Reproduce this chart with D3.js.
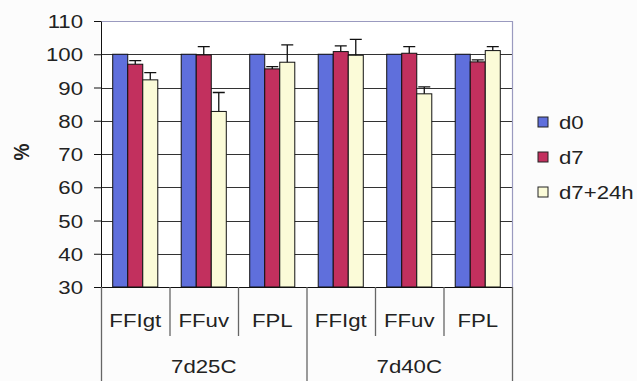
<!DOCTYPE html>
<html>
<head>
<meta charset="utf-8">
<script src="https://cdn.jsdelivr.net/npm/d3@7"></script>
<style>
  html, body { margin: 0; padding: 0; background: #fcfcfc; }
  svg { display: block; font-family: "Liberation Sans", Arial, sans-serif; }
</style>
</head>
<body>
<svg id="chart" width="637" height="381"></svg>
<script>
// Sample groups and their conditions
const conditions = ["7d25C", "7d40C"];
const samples = ["FFIgt", "FFuv", "FPL"];
const seriesNames = ["d0", "d7", "d7+24h"];
const seriesColors = ["#5f6fdc", "#c2305e", "#fbfbd8"];

// Mean values (%) per sample, in order 7d25C FFIgt..FPL, 7d40C FFIgt..FPL
const d0Values    = [100, 100, 100, 100, 100, 100];
const d7Values    = [97.0, 99.8, 95.6, 100.8, 100.3, 97.7];
const d7p24Values = [92.3, 82.8, 97.6, 99.7, 88.1, 101.1];

// Upper error (standard deviation)
const d0Errors    = [0, 0, 0, 0, 0, 0];
const d7Errors    = [1.1, 2.5, 0.7, 1.7, 2.0, 0.6];
const d7p24Errors = [2.2, 5.7, 5.2, 4.8, 2.1, 1.2];

const yTicks = [30, 40, 50, 60, 70, 80, 90, 100, 110];

const valuesBySeries = [d0Values, d7Values, d7p24Values];
const errorsBySeries = [d0Errors, d7Errors, d7p24Errors];

const categories = [];
conditions.forEach(c => samples.forEach(s => categories.push({ condition: c, sample: s, key: c + "-" + s })));

const svg = d3.select("#chart");
const margin = { left: 101, right: 125, top: 21, bottom: 94 };
const W = 637, H = 381;
const plotW = W - margin.left - margin.right;
const plotH = H - margin.top - margin.bottom;
const SX = 1.2; // horizontal text stretch

const x0 = d3.scaleBand().domain(categories.map(d => d.key)).range([0, plotW]).paddingInner(0).paddingOuter(0);
const x1 = d3.scaleBand().domain(seriesNames).range([0, x0.bandwidth()]).paddingInner(0).paddingOuter(0.78);
const y = d3.scaleLinear().domain([30, 110]).range([plotH, 0]);

const g = svg.append("g").attr("transform", `translate(${margin.left},${margin.top})`);

// plot background
g.append("rect").attr("width", plotW).attr("height", plotH).attr("fill", "#ffffff");

// horizontal gridlines
g.selectAll(".grid").data(yTicks.filter(t => t > 30 && t < 110)).enter().append("line")
  .attr("x1", 0).attr("x2", plotW)
  .attr("y1", d => Math.round(y(d)) + 0.5).attr("y2", d => Math.round(y(d)) + 0.5)
  .attr("stroke", "#333").attr("stroke-width", 1);

// top and right frame
g.append("path")
  .attr("d", `M0,${Math.round(y(110)) + 0.5}H${plotW + 0.5}V${plotH}`)
  .attr("fill", "none").attr("stroke", "#9a9abf").attr("stroke-width", 1.2);

// bars
const rows = [];
categories.forEach((c, i) => {
  seriesNames.forEach((s, j) => {
    rows.push({ key: c.key, series: s, j, value: valuesBySeries[j][i], err: errorsBySeries[j][i] });
  });
});

g.selectAll(".bar").data(rows).enter().append("rect")
  .attr("x", d => x0(d.key) + x1(d.series))
  .attr("y", d => y(d.value))
  .attr("width", x1.bandwidth())
  .attr("height", d => plotH - y(d.value))
  .attr("fill", d => seriesColors[d.j])
  .attr("stroke", "#111").attr("stroke-width", 1);

// error bars (upper only)
const errRows = rows.filter(d => d.err > 0);
const capHalf = 6;
g.selectAll(".err").data(errRows).enter().append("path")
  .attr("d", d => {
    const cx = x0(d.key) + x1(d.series) + x1.bandwidth() / 2;
    const yt = y(d.value + d.err), yb = y(d.value);
    return `M${cx},${yb}V${yt}M${cx - capHalf},${yt}H${cx + capHalf}`;
  })
  .attr("fill", "none").attr("stroke", "#111").attr("stroke-width", 1.3);

// y axis
const yAxis = g.append("g").call(d3.axisLeft(y).tickValues(yTicks).tickSize(7).tickSizeOuter(0).tickPadding(0));
yAxis.select(".domain").attr("stroke", "#111");
yAxis.selectAll(".tick line").attr("stroke", "#111");
yAxis.selectAll(".tick text")
  .attr("font-size", 18.5).attr("fill", "#222")
  .attr("x", -18 / SX).attr("dy", "0.36em")
  .attr("transform", `scale(${SX},1)`)
  .attr("font-family", "Liberation Sans, Arial, sans-serif");

// y axis title
svg.append("text")
  .attr("transform", `translate(29,152) rotate(-90) scale(1,${SX})`)
  .attr("text-anchor", "middle")
  .attr("font-size", 19).attr("font-weight", "bold").attr("fill", "#222")
  .text("%");

// x axis baseline and category separators
const xa = g.append("g").attr("transform", `translate(0,${plotH})`);
xa.append("line").attr("x1", 0).attr("x2", plotW).attr("y1", 0.5).attr("y2", 0.5).attr("stroke", "#111");
const bounds = categories.map(c => x0(c.key)).concat([plotW]);
xa.selectAll(".sep").data(bounds).enter().append("line")
  .attr("x1", d => d + 0.5).attr("x2", d => d + 0.5)
  .attr("y1", 0)
  .attr("y2", (d, i) => (i % samples.length === 0) ? H - margin.top - plotH : 49)
  .attr("stroke", "#666").attr("stroke-width", 1.3);

// sample labels
xa.selectAll(".slab").data(categories).enter().append("text")
  .attr("transform", d => `translate(${x0(d.key) + x0.bandwidth() / 2},40) scale(${SX},1)`)
  .attr("text-anchor", "middle").attr("font-size", 18.5).attr("fill", "#222")
  .text(d => d.sample);

// condition labels
xa.selectAll(".clab").data(conditions).enter().append("text")
  .attr("transform", (d, i) => {
    const start = x0(categories[i * samples.length].key);
    const end = x0(categories[i * samples.length + samples.length - 1].key) + x0.bandwidth();
    return `translate(${(start + end) / 2},86) scale(${SX},1)`;
  })
  .attr("text-anchor", "middle").attr("font-size", 18.5).attr("fill", "#222")
  .text(d => d);

// legend
const legend = svg.append("g").attr("transform", "translate(538,117)");
const li = legend.selectAll(".li").data(seriesNames).enter().append("g")
  .attr("transform", (d, i) => `translate(0,${i * 35})`);
li.append("rect").attr("width", 10).attr("height", 10)
  .attr("fill", (d, i) => seriesColors[i]).attr("stroke", "#222").attr("stroke-width", 1);
li.append("text")
  .attr("transform", `translate(21,11.5) scale(${SX},1)`)
  .attr("font-size", 18.5).attr("fill", "#222")
  .text(d => d);
</script>
</body>
</html>
